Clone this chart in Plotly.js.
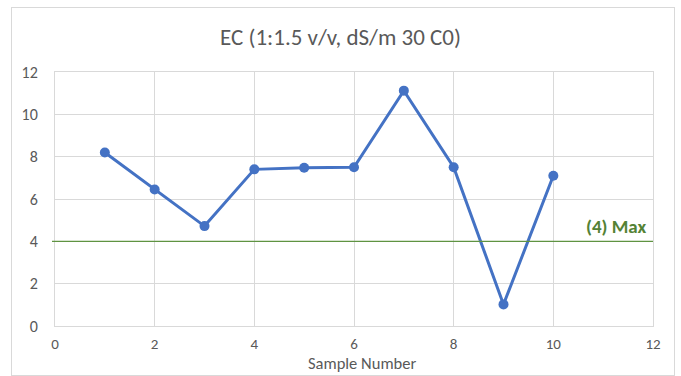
<!DOCTYPE html>
<html><head><meta charset="utf-8">
<script src="https://cdn.plot.ly/plotly-3.0.1.min.js"></script>
<style>html,body{margin:0;padding:0;background:#fff}#c{width:681px;height:376px}
#frame{position:absolute;left:11px;top:7px;width:662px;height:367px;border:1px solid #d9d9d9;pointer-events:none}</style>
</head><body><div id="c"></div><div id="frame"></div>
<script>
const sampleNumbers = [1, 2, 3, 4, 5, 6, 7, 8, 9, 10];
const ecValues = [8.2, 6.45, 4.72, 7.4, 7.48, 7.5, 11.12, 7.5, 1.02, 7.1];
const maxLimit = 4;
const maxLabel = "(4) Max";
const xTitle = "Sample Number";
const tickVals = [0, 2, 4, 6, 8, 10, 12];

const font = "Carlito, Lato, 'Open Sans', sans-serif";
Plotly.newPlot('c', [{
  x: sampleNumbers, y: ecValues, type: 'scatter', mode: 'lines+markers',
  line: {color: '#4472C4', width: 3}, marker: {color: '#4472C4', size: 10},
  hoverinfo: 'skip'
}], {
  width: 681, height: 376,
  margin: {l: 55, r: 28, t: 72, b: 50},
  paper_bgcolor: 'rgba(0,0,0,0)', plot_bgcolor: '#fff',
  showlegend: false,
  title: {text: 'EC (1:1.5 v/v, dS/m 30 C0)', font: {family: font, size: 23, color: '#595959'}, x: 0.5, xanchor: 'center', y: 0.903, yanchor: 'middle'},
  xaxis: {range: [0, 12], tickvals: tickVals, showgrid: true, gridcolor: '#d9d9d9', gridwidth: 1,
    zeroline: false, showline: true, linecolor: '#d9d9d9', mirror: true, ticks: '',
    tickfont: {family: font, size: 15, color: '#595959'}, ticklabelstandoff: 4},
  yaxis: {range: [0, 12], tickvals: tickVals, showgrid: true, gridcolor: '#d9d9d9', gridwidth: 1,
    zeroline: false, showline: true, linecolor: '#d9d9d9', mirror: true, ticks: '',
    tickfont: {family: font, size: 16, color: '#595959'}, ticklabelstandoff: 13},
  shapes: [{type: 'line', xref: 'paper', x0: -0.005, x1: 1, yref: 'y', y0: maxLimit, y1: maxLimit,
    line: {color: '#5f9342', width: 1.3}}],
  annotations: [
    {xref: 'paper', x: 0.513, xanchor: 'center', yref: 'paper', y: -0.145, yanchor: 'middle',
     text: xTitle, showarrow: false, font: {family: font, size: 16.5, color: '#595959'}},
    {xref: 'paper', x: 0.993, xanchor: 'right', yref: 'y', y: maxLimit, yanchor: 'bottom', yshift: 1,
     text: '<b>' + maxLabel + '</b>', showarrow: false, font: {family: font, size: 19, color: '#548235'}}
  ]
}, {displayModeBar: false, staticPlot: true});
</script></body></html>
